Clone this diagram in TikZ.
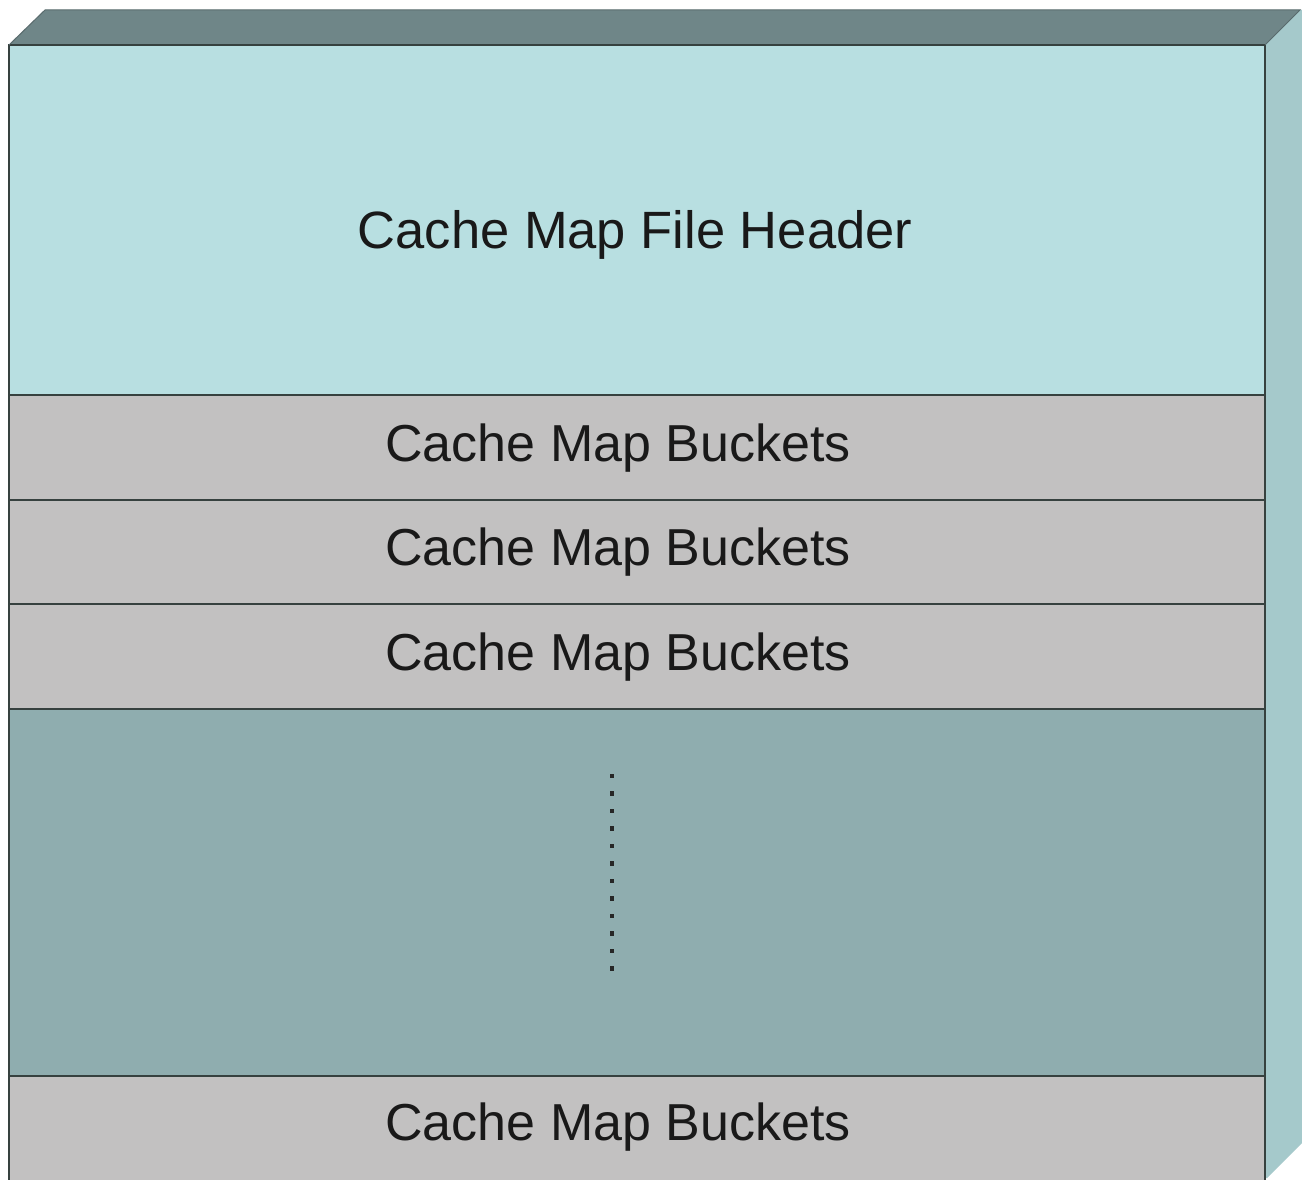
\documentclass[tikz,border=0pt]{standalone}
\usepackage{fontspec}
\setmainfont{Liberation Sans}
\definecolor{hdr}{HTML}{B8DFE1}
\definecolor{bkt}{HTML}{C2C1C1}
\definecolor{gap}{HTML}{8FADAF}
\definecolor{topf}{HTML}{6F8688}
\definecolor{rightf}{HTML}{A5C9CB}
\definecolor{edge}{HTML}{36413F}
\tikzset{
  row/.style={draw=edge, line width=2pt},
  lbl/.style={font=\fontsize{52}{60}\selectfont, text=black!90, inner sep=0pt},
  dotmark/.style={fill=black!85, minimum size=4.5pt, inner sep=0pt}
}
\begin{document}
\begin{tikzpicture}[x=1pt,y=-1pt]
\useasboundingbox (0,0) rectangle (1302,1180);
\fill[white] (0,0) rectangle (1302,1180);
% top face
\fill[topf] (9,45) -- (45,10) -- (1300,10) -- (1265,45) -- cycle;
% right face
\fill[rightf] (1265,45) -- (1300,10) -- (1302,10) -- (1302,1143) -- (1267,1178) -- (1265,1178) -- cycle;
% rows
\filldraw[row, fill=hdr] (9,45) rectangle (1265,395);
\filldraw[row, fill=bkt] (9,395) rectangle (1265,500);
\filldraw[row, fill=bkt] (9,500) rectangle (1265,604);
\filldraw[row, fill=bkt] (9,604) rectangle (1265,709);
\filldraw[row, fill=gap] (9,709) rectangle (1265,1076);
\filldraw[row, fill=bkt] (9,1076) rectangle (1265,1182);
\draw[topf!80!black, line width=1pt] (9,45) -- (45,10) -- (1300,10) -- (1265,45);
% labels
\node[lbl, font=\fontsize{52.5}{62}\selectfont] (header) at (635,235) {Cache Map File Header};
\node[lbl] (b1) at (618,448) {Cache Map Buckets};
\node[lbl] (b2) at (618,552) {Cache Map Buckets};
\node[lbl] (b3) at (618,657) {Cache Map Buckets};
\node[lbl] (b4) at (618,1127) {Cache Map Buckets};
% dots
\foreach \i in {0,...,11} {
  \node[dotmark] (d\i) at (612,{776+\i*17.5}) {};
}
\end{tikzpicture}
\end{document}
